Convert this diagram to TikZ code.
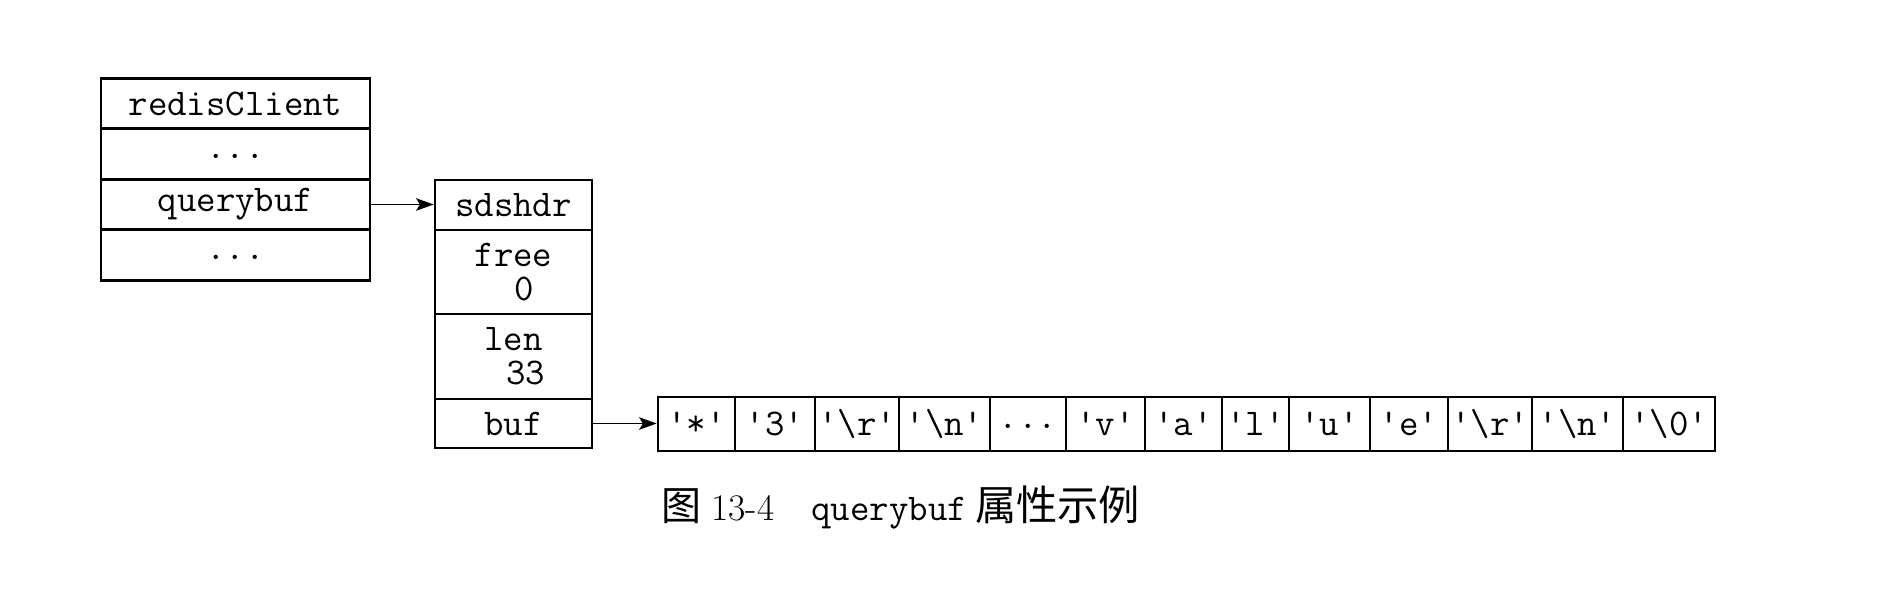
\documentclass[tikz,border=0pt]{standalone}
\usepackage{fontspec}
\newfontfamily\cjk{Noto Sans CJK SC}
\usetikzlibrary{arrows.meta}
\newcommand\mono{\ttfamily\fontsize{15.1}{13.6}\selectfont}
\newcommand\qq[1]{\textquotesingle#1\textquotesingle}
\newcommand\dotsfield{\vphantom{q}...}
\begin{document}
\begin{tikzpicture}[x=0.4pt,y=-0.4pt,
  field/.style={draw, line width=1.1pt, inner sep=0pt, font=\mono},
  fw/.style={minimum width=#1*0.4pt},
  fh/.style={minimum height=#1*0.4pt},
  cell/.style={field, minimum height=54*0.4pt},
  conn/.style={line width=0.6pt, -{Stealth[length=7pt,width=5pt,inset=1.5pt]}}]
\useasboundingbox (0,0) rectangle (1884,588);
% redisClient
\node[field,fw=269,fh=50.5] (rc)  at (235.5,103.5) {redisClient};
\node[field,fw=269,fh=50.5] (rc1) at (235.5,154)   {\dotsfield};
\node[field,fw=269,fh=50.5] (qb)  at (235.5,204.5) {querybuf};
\node[field,fw=269,fh=50.5] (rc3) at (235.5,255)   {\dotsfield};
% sdshdr
\node[field,fw=157,fh=50] (sh) at (513.5,205) {sdshdr};
\node[field,fw=157,fh=84,align=center] (fr) at (513.5,272) {free\\\hspace*{8.8pt}0};
\node[field,fw=157,fh=85,align=center] (ln) at (513.5,356.5) {len\\\hspace*{9.6pt}33};
\node[field,fw=157,fh=49] (bf) at (513.5,423.5) {buf};
% buffer cells
\node[cell,fw=77] (c1)  at (696.5,424)  {\qq{*}};
\node[cell,fw=80] (c2)  at (775,424)    {\qq{3}};
\node[cell,fw=84] (c3)  at (857,424)    {\qq{\textbackslash r}};
\node[cell,fw=91] (c4)  at (944.5,424)  {\qq{\textbackslash n}};
\node[cell,fw=76] (c5)  at (1028,424)   {\dotsfield};
\node[cell,fw=79] (c6)  at (1105.5,424) {\qq{v}};
\node[cell,fw=77] (c7)  at (1183.5,424) {\qq{a}};
\node[cell,fw=67] (c8)  at (1255.5,424) {\qq{l}};
\node[cell,fw=81] (c9)  at (1329.5,424) {\qq{u}};
\node[cell,fw=78] (c10) at (1409,424)   {\qq{e}};
\node[cell,fw=84] (c11) at (1490,424)   {\qq{\textbackslash r}};
\node[cell,fw=91] (c12) at (1577.5,424) {\qq{\textbackslash n}};
\node[cell,fw=92] (c13) at (1669,424)   {\qq{\textbackslash 0}};
% connectors
\draw[conn] (qb.east) -- (qb.east -| sh.west);
\draw[conn] (bf.east) -- (bf.east -| c1.west);
% caption
\node[anchor=west, inner sep=0pt] (cap) at (661,507)
  {{\cjk\fontsize{16}{18}\selectfont 图}\hspace{4pt}{\fontsize{15}{18}\selectfont 13-4}\hspace{14.8pt}{\mono querybuf}\hspace{3.2pt}{\cjk\fontsize{16.5}{18}\selectfont 属性示例}};
\end{tikzpicture}
\end{document}
